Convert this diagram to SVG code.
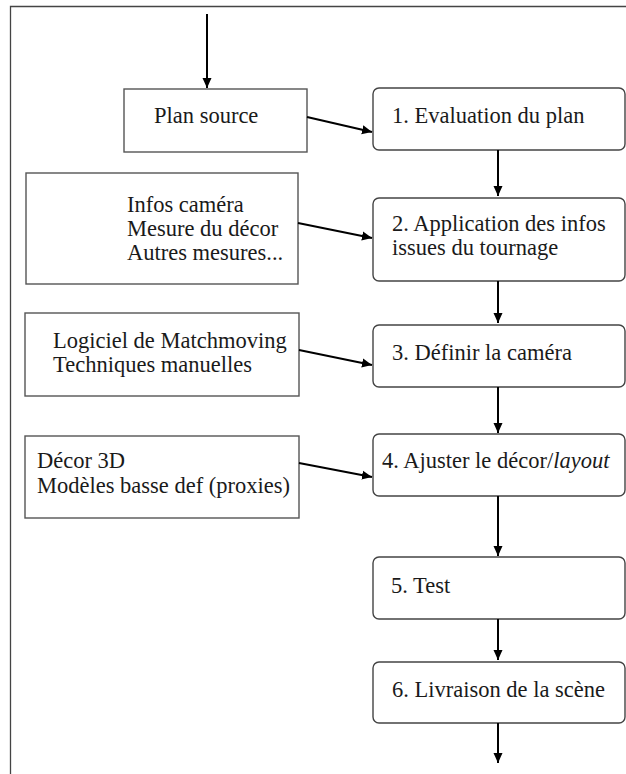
<svg xmlns="http://www.w3.org/2000/svg" width="626" height="774" viewBox="0 0 626 774">
<style>
.src{fill:#fff;stroke:#555;stroke-width:1.4}
.step{fill:#fff;stroke:#444;stroke-width:1.4}
.t{font-family:"Liberation Serif","Times New Roman",serif;font-size:22.5px;fill:#1a1a1a}
.c{stroke:#000;stroke-width:2;fill:none;marker-end:url(#ah)}
.frame{stroke:#444;stroke-width:1.3;fill:none}
</style>
<defs>
<marker id="ah" viewBox="0 0 10 10" refX="10" refY="5" markerWidth="10" markerHeight="10" markerUnits="userSpaceOnUse" orient="auto">
<path d="M0,0.5 L10,5 L0,9.5 z" fill="#000"/>
</marker>
</defs>
<path class="frame" d="M10.5,774 V6.5 H626"/>
<g id="plan-source"><rect class="src" x="124" y="89" width="183" height="63"/><text class="t" x="154" y="123">Plan source</text></g>
<g id="step1"><rect class="step" x="373" y="88" width="252" height="62" rx="6"/><text class="t" x="392" y="123">1. Evaluation du plan</text></g>
<g id="infos"><rect class="src" x="26" y="173" width="272" height="111"/><text class="t" x="127" y="212">Infos caméra</text><text class="t" x="127" y="236">Mesure du décor</text><text class="t" x="127" y="260">Autres mesures...</text></g>
<g id="step2"><rect class="step" x="373" y="198" width="252" height="83" rx="6"/><text class="t" x="392" y="231">2. Application des infos</text><text class="t" x="392" y="255">issues du tournage</text></g>
<g id="logiciel"><rect class="src" x="25" y="313" width="274" height="83"/><text class="t" x="53" y="348">Logiciel de Matchmoving</text><text class="t" x="53" y="372">Techniques manuelles</text></g>
<g id="step3"><rect class="step" x="373" y="325" width="252" height="62" rx="6"/><text class="t" x="392" y="360">3. Définir la caméra</text></g>
<g id="decor"><rect class="src" x="25" y="436" width="274" height="82"/><text class="t" x="37" y="468">Décor 3D</text><text class="t" x="37" y="493">Modèles basse def (proxies)</text></g>
<g id="step4"><rect class="step" x="373" y="434" width="252" height="62" rx="6"/><text class="t" x="382" y="468">4. Ajuster le décor/<tspan font-style="italic">layout</tspan></text></g>
<g id="step5"><rect class="step" x="373" y="557" width="252" height="62" rx="6"/><text class="t" x="391" y="593">5. Test</text></g>
<g id="step6"><rect class="step" x="373" y="662" width="252" height="61" rx="6"/><text class="t" x="392" y="697">6. Livraison de la scène</text></g>
<g id="connectors">
<path class="c" d="M207,14 V88"/>
<path class="c" d="M307,117 L372,132"/>
<path class="c" d="M498,150 V196"/>
<path class="c" d="M298,223 L372,238"/>
<path class="c" d="M498,281 V323"/>
<path class="c" d="M299,350 L372,365"/>
<path class="c" d="M498,387 V433"/>
<path class="c" d="M299,463 L372,477"/>
<path class="c" d="M498,496 V556"/>
<path class="c" d="M498,619 V660"/>
<path class="c" d="M498,723 V763"/>
</g>
</svg>
